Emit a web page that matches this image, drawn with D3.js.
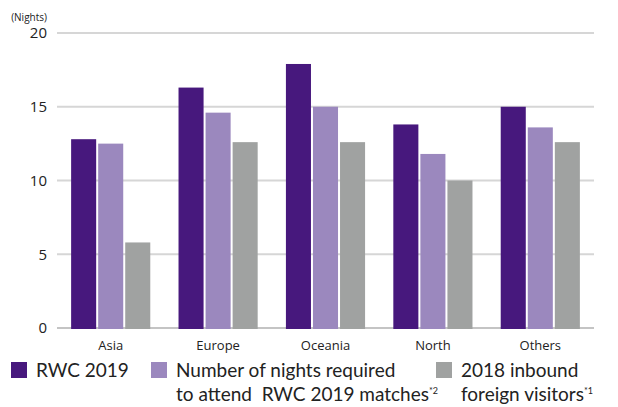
<!DOCTYPE html>
<html lang="en">
<head>
    <title>RWC 2019 nights</title>
    <meta charset="utf-8"/>
    <script src="https://d3js.org/d3.v7.min.js"></script>
    <style>
        body { margin: 0; background: #fff; }
        text { font-family: "Open Sans", "Noto Sans", sans-serif; fill: #222; }
    </style>
</head>
<body>

<div id="viz">
    <svg width="618" height="407"></svg>
</div>

<script type="text/javascript">

    // datos
    const regions = ["Asia", "Europe", "Oceania", "North", "Others"];
    const seriesKeys = ["rwc", "required", "inbound"];
    const rwc2019 = [12.8, 16.3, 17.9, 13.8, 15.0];
    const nightsRequired = [12.5, 14.6, 15.0, 11.8, 13.6];
    const inbound2018 = [5.8, 12.6, 12.6, 10.0, 12.6];
    const yTicks = [0, 5, 10, 15, 20];
    const colors = ["#47187d", "#9b88be", "#a0a2a1"];

    const values = [rwc2019, nightsRequired, inbound2018];

    const svg = d3.select("svg");

    // escalas
    let xScale = d3.scaleBand()
        .domain(regions)
        .range([57, 594])
        .paddingInner(0.263)
        .paddingOuter(0.1315);

    let xInner = d3.scaleBand()
        .domain(seriesKeys)
        .range([0, xScale.bandwidth()])
        .paddingInner(0.074);

    let yScale = d3.scaleLinear()
        .domain([0, 20])
        .range([328, 33]);

    // rejilla
    svg.append("g")
        .selectAll("line")
        .data(yTicks)
        .join("line")
        .attr("x1", 57)
        .attr("x2", 594)
        .attr("y1", d => yScale(d))
        .attr("y2", d => yScale(d))
        .attr("stroke", d => d === 0 ? "#c4c4c4" : "#d6d6d6")
        .attr("stroke-width", 2);

    // eje Y
    let yAxis = d3.axisLeft(yScale)
        .tickValues(yTicks)
        .tickSize(0)
        .tickPadding(0);
    let yPlot = svg.append("g")
        .attr("transform", "translate(47,0)")
        .call(yAxis);
    yPlot.select(".domain").remove();
    yPlot.selectAll("text")
        .style("font-size", "15px")
        .style("font-family", "'Open Sans', sans-serif")
        .attr("fill", "#222");

    svg.append("text")
        .attr("x", 47)
        .attr("y", 21)
        .attr("text-anchor", "end")
        .style("font-size", "10px")
        .text("(Nights)");

    // barras
    let groups = svg.append("g")
        .selectAll("g")
        .data(regions)
        .join("g")
        .attr("transform", d => "translate(" + xScale(d) + ",0)");

    groups.selectAll("rect")
        .data((d, i) => seriesKeys.map((k, j) => ({key: k, value: values[j][i], color: colors[j]})))
        .join("rect")
        .attr("x", d => xInner(d.key))
        .attr("width", xInner.bandwidth())
        .attr("y", d => yScale(d.value))
        .attr("height", d => yScale(0) + 1 - yScale(d.value))
        .attr("fill", d => d.color);

    // eje X
    let xAxis = d3.axisBottom(xScale).tickSize(0).tickPadding(0);
    let xPlot = svg.append("g")
        .attr("transform", "translate(0,341)")
        .call(xAxis);
    xPlot.select(".domain").remove();
    xPlot.selectAll("text")
        .style("font-size", "13px")
        .style("font-family", "'Open Sans', sans-serif")
        .attr("fill", "#222");

    // leyenda
    const legend = [
        {x: 11, lines: [["RWC 2019", ""]]},
        {x: 151, lines: [["Number of nights required", ""], ["to attend  RWC 2019 matches", "*2"]]},
        {x: 436, lines: [["2018 inbound", ""], ["foreign visitors", "*1"]]}
    ];

    let items = svg.append("g")
        .selectAll("g")
        .data(legend)
        .join("g")
        .attr("transform", d => "translate(" + d.x + ",362)");

    items.append("rect")
        .attr("width", 16)
        .attr("height", 16)
        .attr("fill", (d, i) => colors[i]);

    items.each(function (d) {
        d.lines.forEach(function (l, k) {
            let t = d3.select(this).append("text")
                .attr("x", 25)
                .attr("y", 15 + k * 24)
                .style("font-family", "Lato, sans-serif")
                .style("font-size", "19px")
                .attr("xml:space", "preserve");
            t.append("tspan").text(l[0]);
            if (l[1]) {
                t.append("tspan")
                    .attr("dy", -7)
                    .style("font-size", "9px")
                    .text(l[1]);
            }
        }, this);
    });

</script>
</body>
</html>
